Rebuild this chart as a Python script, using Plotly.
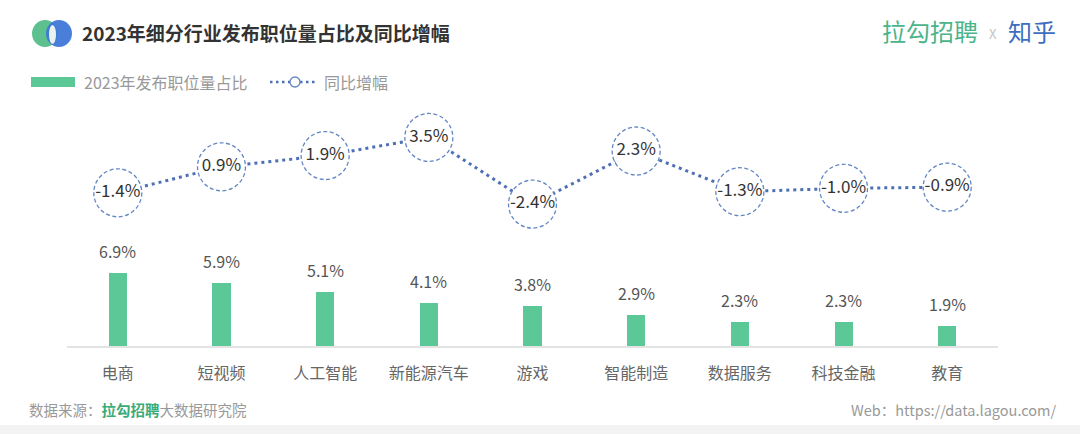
import plotly.graph_objects as go

categories = ["电商", "短视频", "人工智能", "新能源汽车", "游戏", "智能制造", "数据服务", "科技金融", "教育"]
share_2023 = [6.9, 5.9, 5.1, 4.1, 3.8, 2.9, 2.3, 2.3, 1.9]
yoy_growth = [-1.4, 0.9, 1.9, 3.5, -2.4, 2.3, -1.3, -1.0, -0.9]

W, H = 1080, 434
FONT = "Noto Sans CJK SC"
GREEN = "#5cc797"
BLUE = "#4d70b5"
CIRCLE = "#6387c4"


def px(x):
    return x / W


def py(y):
    return 1 - y / H


idx = list(range(len(categories)))

fig = go.Figure()
fig.add_trace(go.Bar(
    x=idx, y=share_2023, width=0.174, marker=dict(color=GREEN, line=dict(width=0)),
    hoverinfo="skip", showlegend=False,
))
fig.add_trace(go.Scatter(
    x=idx, y=yoy_growth, yaxis="y2", mode="lines+markers+text",
    text=[f"{v}%" for v in yoy_growth], textposition="middle center",
    textfont=dict(family=FONT, size=17, color="#333333"),
    line=dict(color=BLUE, width=3, dash="3px,4px"),
    marker=dict(size=47, color="white", line=dict(width=0)),
    cliponaxis=False, hoverinfo="skip", showlegend=False,
))

shapes = []
annotations = []

# dashed circle outlines around growth values
for i, v in zip(idx, yoy_growth):
    shapes.append(dict(
        type="circle", xref="x", yref="y2", xsizemode="pixel", ysizemode="pixel",
        xanchor=i, yanchor=v, x0=-24, x1=24, y0=-24, y1=24,
        line=dict(color=CIRCLE, width=1.3, dash="4px,2.5px"), layer="above",
    ))

# bar value labels
for i, v in zip(idx, share_2023):
    annotations.append(dict(
        x=i, y=v, xref="x", yref="y", text=f"{v}%", showarrow=False,
        yanchor="bottom", yshift=8, font=dict(family=FONT, size=16, color="#555555"),
    ))

# logo
shapes.append(dict(type="circle", xref="paper", yref="paper",
                   x0=px(32), x1=px(58), y0=py(47), y1=py(20),
                   fillcolor="#5cc08f", line=dict(width=0), layer="above"))
shapes.append(dict(type="circle", xref="paper", yref="paper",
                   x0=px(46), x1=px(72), y0=py(47), y1=py(20),
                   fillcolor="#3f78d8", line=dict(width=0), opacity=0.95, layer="above"))
shapes.append(dict(type="circle", xref="paper", yref="paper",
                   x0=px(49), x1=px(56), y0=py(44), y1=py(25),
                   fillcolor="#e9f2f1", line=dict(width=0), layer="above"))

annotations.append(dict(
    x=px(80), y=py(32), xref="paper", yref="paper", xanchor="left", yanchor="middle",
    text="<b>2023年细分行业发布职位量占比及同比增幅</b>", showarrow=False,
    font=dict(family=FONT, size=19, color="#333333"),
))

# brand at top right
annotations.append(dict(
    x=px(980), y=py(31), xref="paper", yref="paper", xanchor="right", yanchor="middle",
    text="拉勾招聘", showarrow=False, font=dict(family=FONT, size=24, color="#4cb48a"),
))
annotations.append(dict(
    x=px(993), y=py(33), xref="paper", yref="paper", xanchor="center", yanchor="middle",
    text="X", showarrow=False, font=dict(family=FONT, size=13, color="#c4c4c4"),
))
annotations.append(dict(
    x=px(1006), y=py(31), xref="paper", yref="paper", xanchor="left", yanchor="middle",
    text="知乎", showarrow=False, font=dict(family=FONT, size=24, color="#3d6ebf"),
))

# custom legend
shapes.append(dict(type="rect", xref="paper", yref="paper",
                   x0=px(31), x1=px(75), y0=py(87), y1=py(77),
                   fillcolor=GREEN, line=dict(width=0)))
annotations.append(dict(
    x=px(82), y=py(82), xref="paper", yref="paper", xanchor="left", yanchor="middle",
    text="2023年发布职位量占比", showarrow=False, font=dict(family=FONT, size=16, color="#999999"),
))
shapes.append(dict(type="line", xref="paper", yref="paper",
                   x0=px(270), x1=px(318), y0=py(82), y1=py(82),
                   line=dict(color=BLUE, width=2.5, dash="2.5px,3.5px")))
shapes.append(dict(type="circle", xref="paper", yref="paper",
                   x0=px(290), x1=px(300), y0=py(87), y1=py(77),
                   fillcolor="white", line=dict(color=CIRCLE, width=1.3)))
annotations.append(dict(
    x=px(322), y=py(82), xref="paper", yref="paper", xanchor="left", yanchor="middle",
    text="同比增幅", showarrow=False, font=dict(family=FONT, size=16, color="#999999"),
))

# footer
annotations.append(dict(
    x=px(27), y=py(409), xref="paper", yref="paper", xanchor="left", yanchor="middle",
    text="数据来源：<b><span style='color:#3aab79'>拉勾招聘</span></b>大数据研究院", showarrow=False,
    font=dict(family=FONT, size=14.5, color="#999999"),
))
annotations.append(dict(
    x=px(1058), y=py(409), xref="paper", yref="paper", xanchor="right", yanchor="middle",
    text="Web：https://data.lagou.com/", showarrow=False,
    font=dict(family=FONT, size=14.5, color="#999999"),
))
shapes.append(dict(type="rect", xref="paper", yref="paper",
                   x0=0, x1=1, y0=0, y1=py(425),
                   fillcolor="#f3f3f3", line=dict(width=0), layer="below"))

fig.update_layout(
    width=W, height=H,
    margin=dict(l=0, r=0, t=0, b=0),
    paper_bgcolor="white", plot_bgcolor="white",
    font=dict(family=FONT),
    bargap=0,
    xaxis=dict(
        domain=[px(67), px(998)], range=[-0.49, len(categories) - 0.51],
        tickvals=idx, ticktext=categories, showline=True, linecolor="#e3e3e3", linewidth=1.5,
        showgrid=False, zeroline=False, ticks="", ticklabelstandoff=12,
        tickfont=dict(family=FONT, size=16, color="#666666"), fixedrange=True,
    ),
    yaxis=dict(
        domain=[py(346), 1], range=[0, 346 / 10.6], visible=False, fixedrange=True,
    ),
    yaxis2=dict(
        overlaying="y", range=[-(346 - 177) / 11.3, 177 / 11.3], visible=False, fixedrange=True,
    ),
    shapes=shapes, annotations=annotations,
)

fig.write_html(
    "out.html",
    config={"displayModeBar": False},
    post_script="document.body.style.margin='0';document.body.style.overflow='hidden';",
)
